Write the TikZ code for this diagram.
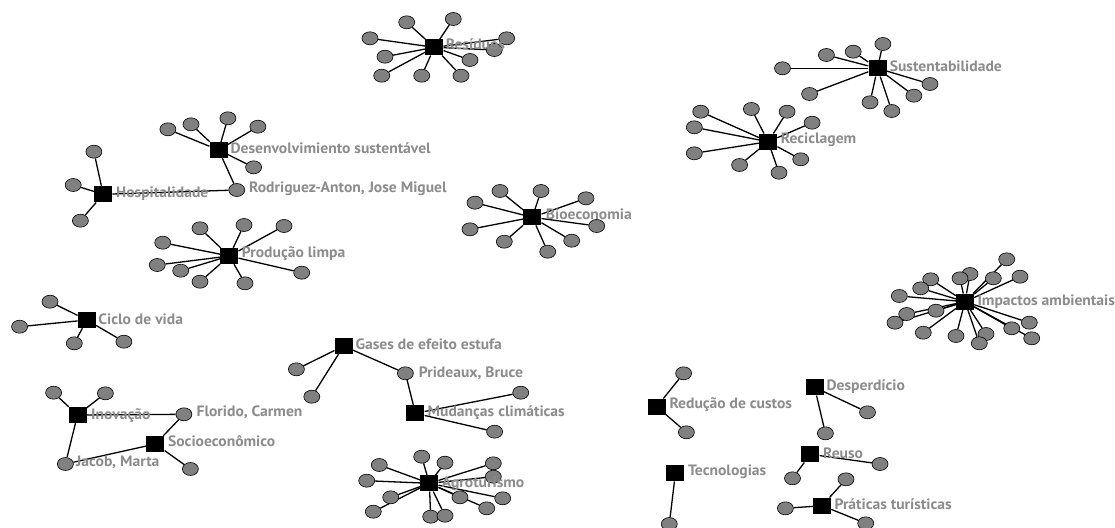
\documentclass[tikz,border=0pt]{standalone}
\usepackage{fontspec}
\newfontfamily\lblfont{PT Sans}[BoldFont={PT Sans Bold}, FakeStretch=1.04]
\usetikzlibrary{shapes.geometric,backgrounds}
\definecolor{satgray}{RGB}{128,128,128}
\definecolor{lblgray}{RGB}{140,140,140}
\tikzset{
  sat/.style={ellipse, draw=black, line width=0.6pt, fill=satgray, minimum width=16pt, minimum height=13pt, inner sep=0pt},
  hub/.style={rectangle, fill=black, minimum width=18pt, minimum height=16pt, inner sep=0pt},
  lbl/.style={anchor=base west, text=lblgray, inner sep=0pt, font=\lblfont\bfseries\fontsize{15}{17}\selectfont},
  edge/.style={line width=1.3pt, black}
}
\begin{document}
\begin{tikzpicture}[x=1pt,y=-1pt]
\useasboundingbox (0,0) rectangle (1115,527);
% ---------- hubs ----------
\node[hub] (RES) at (434.3,47.3) {};
\node[hub] (SUS) at (877.5,68.3) {};
\node[hub] (REC) at (768.2,141.7) {};
\node[hub] (DES) at (218.6,150) {};
\node[hub] (HOS) at (103.2,194.3) {};
\node[hub] (BIO) at (532.3,217.3) {};
\node[hub] (PRO) at (229.3,256) {};
\node[hub] (IMP) at (965,301.7) {};
\node[hub] (CIC) at (86.8,320) {};
\node[hub] (GAS) at (343.6,346) {};
\node[hub] (MUD) at (415.4,413.3) {};
\node[hub] (INO) at (77.5,415) {};
\node[hub] (SOC) at (155.4,444) {};
\node[hub] (AGR) at (429.3,483.3) {};
\node[hub] (RED) at (656.8,406.7) {};
\node[hub] (DSP) at (814.6,387.3) {};
\node[hub] (REU) at (810.4,454.3) {};
\node[hub] (TEC) at (675.4,473.3) {};
\node[hub] (PRA) at (822.1,505.7) {};
% ---------- shared satellites ----------
\node[sat] (ROD) at (236.8,190) {};
\node[sat] (PRI) at (405.4,373.3) {};
\node[sat] (FLO) at (183.9,414.3) {};
\node[sat] (JAC) at (65.4,464) {};
% ---------- satellites ----------
\foreach \i/\p in {1/{406.7,22.3},2/{453.3,19},3/{370,38.3},4/{385,56.7},5/{381.7,75.7},6/{421.7,75.7},7/{461,75.7},8/{470,60},9/{494.3,50},10/{506.7,38.3}}
  \node[sat] (RES\i) at (\p) {};
\foreach \i/\p in {1/{882.9,44},2/{853.2,51.7},3/{826.4,55},4/{782.5,68.3},5/{809.6,94},6/{870,102.3},7/{891.8,111},8/{913.9,95.7},9/{930,84}}
  \node[sat] (SUS\i) at (\p) {};
\foreach \i/\p in {1/{700.7,111.7},2/{751.4,109},3/{787.1,111.7},4/{812.1,122.7},5/{694.3,127.3},6/{694.3,153.3},7/{739.6,165},8/{779,172.7},9/{800.7,159.3}}
  \node[sat] (REC\i) at (\p) {};
\foreach \i/\p in {1/{167.9,129.3},2/{191,124.3},3/{227.9,118.3},4/{257.9,126.7},5/{253.6,167.3}}
  \node[sat] (DES\i) at (\p) {};
\foreach \i/\p in {1/{93.9,151.7},2/{73.2,185},3/{80.4,220.7}}
  \node[sat] (HOS\i) at (\p) {};
\foreach \i/\p in {1/{500,191},2/{541,191},3/{475,202.7},4/{586,198.3},5/{470,229.3},6/{504.3,241.7},7/{547.7,251.7},8/{571.7,240.7},9/{596.7,226}}
  \node[sat] (BIO\i) at (\p) {};
\foreach \i/\p in {1/{200,228.3},2/{244,225},3/{284,226},4/{162.7,242.7},5/{157.3,265},6/{180.7,270.7},7/{200,281.7},8/{245,283.3},9/{301.7,272.7}}
  \node[sat] (PRO\i) at (\p) {};
\foreach \i/\p in {1/{1006.7,259.3},2/{1020,276.7},3/{993.3,278.3},4/{970,274},5/{960,278.3},6/{930.7,279.3},7/{920.7,288.3},8/{899.3,296},9/{936,310.7},10/{906.7,314},11/{895,322.7},12/{923.3,332.7},13/{956,336},14/{986,334},15/{979.3,343.3},16/{1011.7,328.3},17/{1029.3,322.7},18/{1031.7,338.3}}
  \node[sat] (IMP\i) at (\p) {};
\foreach \i/\p in {1/{50,301.7},2/{19.6,326.7},3/{74.3,343.3},4/{123.9,341.7}}
  \node[sat] (CIC\i) at (\p) {};
\foreach \i/\p in {1/{296.4,369.3},2/{311.8,396.7}}
  \node[sat] (GAS\i) at (\p) {};
\foreach \i/\p in {1/{520.7,392.7},2/{494.6,431.7}}
  \node[sat] (MUD\i) at (\p) {};
\foreach \i/\p in {1/{53.6,392.7},2/{105.4,393.3}}
  \node[sat] (INO\i) at (\p) {};
\node[sat] (SOC1) at (190.4,469) {};
\foreach \i/\p in {1/{421.7,456.7},2/{379.3,465},3/{445,462.7},4/{493.3,463.3},5/{493.3,476.7},6/{366.7,480.7},7/{390.7,497.3},8/{460,497.3},9/{502.7,498.3},10/{373.3,511.7},11/{486.7,508.3},12/{430.7,516.7},13/{445,515.7}}
  \node[sat] (AGR\i) at (\p) {};
\foreach \i/\p in {1/{683.6,373.3},2/{686.4,432.3}}
  \node[sat] (RED\i) at (\p) {};
\foreach \i/\p in {1/{867.5,412.3},2/{825.4,433.3}}
  \node[sat] (DSP\i) at (\p) {};
\foreach \i/\p in {1/{792.5,478.3},2/{880,464}}
  \node[sat] (REU\i) at (\p) {};
\node[sat] (TEC1) at (669.3,524) {};
\foreach \i/\p in {1/{846,479.3},2/{785.4,508.3},3/{865.7,523.3}}
  \node[sat] (PRA\i) at (\p) {};
% ---------- edges ----------
\begin{pgfonlayer}{background}
\fill[white] (0,0) rectangle (1115,527);
\foreach \i in {1,...,10} \draw[edge] (RES) -- (RES\i);
\foreach \i in {1,...,9} \draw[edge] (SUS) -- (SUS\i);
\foreach \i in {1,...,9} \draw[edge] (REC) -- (REC\i);
\foreach \i in {1,...,5} \draw[edge] (DES) -- (DES\i);
\foreach \i in {1,...,3} \draw[edge] (HOS) -- (HOS\i);
\foreach \i in {1,...,9} \draw[edge] (BIO) -- (BIO\i);
\foreach \i in {1,...,9} \draw[edge] (PRO) -- (PRO\i);
\foreach \i in {1,...,18} \draw[edge] (IMP) -- (IMP\i);
\foreach \i in {1,...,4} \draw[edge] (CIC) -- (CIC\i);
\foreach \i in {1,2} \draw[edge] (GAS) -- (GAS\i);
\foreach \i in {1,2} \draw[edge] (MUD) -- (MUD\i);
\foreach \i in {1,2} \draw[edge] (INO) -- (INO\i);
\foreach \i in {1,...,13} \draw[edge] (AGR) -- (AGR\i);
\foreach \i in {1,2} \draw[edge] (RED) -- (RED\i);
\foreach \i in {1,2} \draw[edge] (DSP) -- (DSP\i);
\foreach \i in {1,2} \draw[edge] (REU) -- (REU\i);
\foreach \i in {1,2,3} \draw[edge] (PRA) -- (PRA\i);
\draw[edge] (TEC) -- (TEC1);
\draw[edge] (SOC) -- (SOC1);
\draw[edge] (DES) -- (ROD);
\draw[edge] (HOS) -- (ROD);
\draw[edge] (GAS) -- (PRI);
\draw[edge] (MUD) -- (PRI);
\draw[edge] (INO) -- (FLO);
\draw[edge] (INO) -- (JAC);
\draw[edge] (SOC) -- (FLO);
\draw[edge] (SOC) -- (JAC);
\end{pgfonlayer}
% ---------- labels ----------
\node[lbl] (lRES) at (445.7,49) {Resíduos};
\node[lbl] (lSUS) at (889.6,71) {Sustentabilidade};
\node[lbl] (lREC) at (780.7,143.3) {Reciclagem};
\node[lbl] (lDES) at (230.4,153.3) {Desenvolvimiento sustentável};
\node[lbl] (lROD) at (249,192.3) {Rodriguez-Anton, Jose Miguel};
\node[lbl] (lHOS) at (116,197.7) {Hospitalidade};
\node[lbl] (lBIO) at (545.7,219) {Bioeconomia};
\node[lbl] (lPRO) at (241.7,257.7) {Produção limpa};
\node[lbl] (lIMP) at (977.3,305) {Impactos ambientais};
\node[lbl] (lCIC) at (98.2,324.3) {Ciclo de vida};
\node[lbl] (lGAS) at (355.4,349) {Gases de efeito estufa};
\node[lbl] (lPRI) at (418.6,377.3) {Prideaux, Bruce};
\node[lbl] (lMUD) at (427.5,416) {Mudanças climáticas};
\node[lbl] (lINO) at (91,419.3) {Inovação};
\node[lbl] (lFLO) at (196.4,416.7) {Florido, Carmen};
\node[lbl] (lSOC) at (167.9,446.7) {Socioeconômico};
\node[lbl] (lJAC) at (76,466.7) {Jacob, Marta};
\node[lbl] (lAGR) at (441.7,487.7) {Agroturismo};
\node[lbl] (lRED) at (669.3,408.3) {Redução de custos};
\node[lbl] (lDSP) at (826.4,390) {Desperdício};
\node[lbl] (lREU) at (822.9,458.3) {Reuso};
\node[lbl] (lTEC) at (687.9,475.7) {Tecnologias};
\node[lbl] (lPRA) at (834.3,509) {Práticas turísticas};
\end{tikzpicture}
\end{document}
